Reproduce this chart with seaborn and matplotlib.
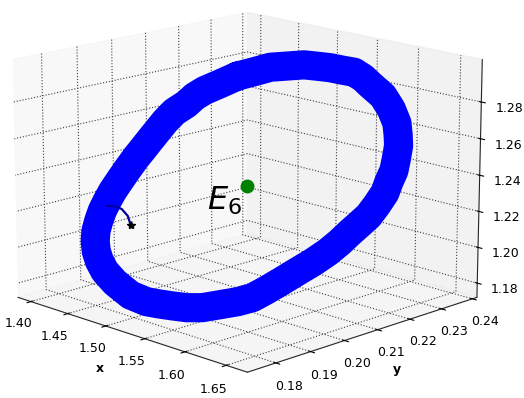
import matplotlib
matplotlib.use("Agg")
import matplotlib.pyplot as plt
import seaborn as sns

# Limit cycle (thick band)
cycle_x = [1.4996, 1.5092, 1.5182, 1.5286, 1.5390, 1.5476, 1.5562, 1.5650, 1.5725, 1.5797,
           1.5857, 1.5965, 1.6051, 1.6121, 1.6157, 1.6187, 1.6204, 1.6218, 1.6214, 1.6216,
           1.6195, 1.6169, 1.6128, 1.6091, 1.6053, 1.6002, 1.5932, 1.5860, 1.5788, 1.5715,
           1.5641, 1.5556, 1.5450, 1.5350, 1.5255, 1.5155, 1.5068, 1.4985, 1.4870, 1.4742,
           1.4651, 1.4591, 1.4545, 1.4514, 1.4493, 1.4485, 1.4482, 1.4489, 1.4499, 1.4515,
           1.4535, 1.4559, 1.4583, 1.4602, 1.4628, 1.4653, 1.4688, 1.4744, 1.4776, 1.4824,
           1.4907, 1.4996]
cycle_y = [0.2106, 0.2134, 0.2161, 0.2187, 0.2213, 0.2232, 0.2250, 0.2268, 0.2284, 0.2294,
           0.2300, 0.2313, 0.2317, 0.2317, 0.2312, 0.2306, 0.2295, 0.2284, 0.2270, 0.2257,
           0.2238, 0.2219, 0.2199, 0.2180, 0.2161, 0.2137, 0.2109, 0.2081, 0.2053, 0.2025,
           0.1998, 0.1974, 0.1945, 0.1918, 0.1895, 0.1874, 0.1855, 0.1839, 0.1819, 0.1803,
           0.1794, 0.1792, 0.1793, 0.1797, 0.1804, 0.1814, 0.1825, 0.1838, 0.1852, 0.1868,
           0.1886, 0.1906, 0.1922, 0.1936, 0.1954, 0.1972, 0.1990, 0.2013, 0.2030, 0.2048,
           0.2076, 0.2106]
cycle_z = [1.2897, 1.2919, 1.2941, 1.2947, 1.2953, 1.2946, 1.2939, 1.2926, 1.2916, 1.2887,
           1.2855, 1.2798, 1.2733, 1.2664, 1.2605, 1.2551, 1.2486, 1.2427, 1.2373, 1.2318,
           1.2259, 1.2204, 1.2160, 1.2120, 1.2076, 1.2027, 1.1977, 1.1933, 1.1888, 1.1844,
           1.1804, 1.1784, 1.1769, 1.1755, 1.1755, 1.1764, 1.1774, 1.1784, 1.1816, 1.1877,
           1.1933, 1.1982, 1.2031, 1.2081, 1.2130, 1.2180, 1.2229, 1.2279, 1.2328, 1.2377,
           1.2432, 1.2491, 1.2536, 1.2575, 1.2625, 1.2674, 1.2719, 1.2758, 1.2795, 1.2825,
           1.2859, 1.2897]

# initial transient (from the star into the cycle)
start_x = [1.4702, 1.4661, 1.4606, 1.4554, 1.4504]
start_y = [0.1858, 0.1859, 0.1854, 0.1845, 0.1833]
start_z = [1.2160, 1.2205, 1.2239, 1.2254, 1.2254]

# equilibrium E6
eq_x, eq_y, eq_z = 1.5335, 0.2055, 1.2353
eq_label = r"$E_6$"

xticks = [1.40, 1.45, 1.50, 1.55, 1.60, 1.65]
yticks = [0.18, 0.19, 0.20, 0.21, 0.22, 0.23, 0.24]
zticks = [1.18, 1.20, 1.22, 1.24, 1.26, 1.28]
xlim = (1.382, 1.675)
ylim = (0.172, 0.2415)
zlim = (1.172, 1.303)

sns.set_style("white", rc={"grid.linestyle": ":", "grid.color": "0.25",
                           "grid.linewidth": 0.9, "text.color": "black",
                           "xtick.color": "black", "ytick.color": "black",
                           "axes.labelcolor": "black"})
plt.rcParams["font.family"] = ["DejaVu Sans"]

fig = plt.figure(figsize=(5.24, 3.98), dpi=100)
ax = fig.add_axes([-0.184, -0.110, 1.286, 1.282], projection="3d", computed_zorder=False)
ax.view_init(elev=15, azim=-45)

ax.plot(cycle_x, cycle_y, cycle_z, color="blue", lw=21,
        solid_joinstyle="round", solid_capstyle="round")
ax.plot(start_x, start_y, start_z, color="#0000a0", lw=1.6)
ax.plot([start_x[0]], [start_y[0]], [start_z[0]], marker="*", color="black",
        ms=6, ls="none")
ax.plot([eq_x], [eq_y], [eq_z], marker="o", color="green", ms=9, ls="none")
ax.text(eq_x - 0.006, eq_y, eq_z, eq_label, fontsize=23, ha="right", va="top")

ax.set_xlim(*xlim)
ax.set_ylim(*ylim)
ax.set_zlim(*zlim)
ax.set_xticks(xticks)
ax.set_yticks(yticks)
ax.set_zticks(zticks)
ax.set_xticklabels([f"{t:.2f}" for t in xticks], fontsize=9)
ax.set_yticklabels([f"{t:.2f}" for t in yticks], fontsize=9)
ax.set_zticklabels([f"{t:.2f}" for t in zticks], fontsize=9)
ax.xaxis.set_tick_params(pad=2)
ax.yaxis.set_tick_params(pad=2)
for axis in (ax.xaxis, ax.yaxis, ax.zaxis):
    axis.offsetText.set_visible(False)
    axis.label.set_visible(False)

# axis labels placed where the reference shows them
fig.text(100 / 524, 1 - 369 / 398, "x", fontsize=9, fontweight="bold",
         ha="center", va="center")
fig.text(397 / 524, 1 - 369 / 398, "y", fontsize=9, fontweight="bold",
         ha="center", va="center")

fig.savefig("out.png", dpi=100)
